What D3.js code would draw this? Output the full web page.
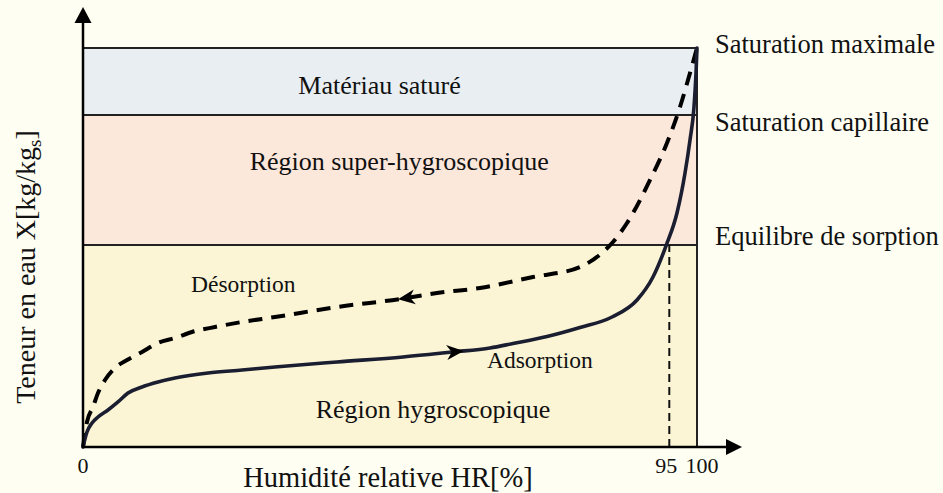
<!DOCTYPE html>
<html>
<head>
<meta charset="utf-8">
<script src="https://cdn.jsdelivr.net/npm/d3@7"></script>
<style>
  html, body { margin: 0; padding: 0; background: #fefef2; }
  svg { display: block; }
  text { font-family: "Liberation Serif", "Times New Roman", serif; fill: #111; }
</style>
</head>
<body>
<svg id="chart" width="943" height="493"></svg>
<script>
// Sorption isotherm: water content vs relative humidity
const adsorptionHR = [0, 0.65, 1.47, 2.44, 4.07, 5.7, 7.33, 9.61, 12.21, 14.98, 20.36, 25.9, 31.27, 41.37, 52.12, 60.26, 66.29, 70.03, 75.57, 80.94, 86.16, 90.23, 92.83, 95.0, 96.74, 98.05, 98.86, 99.51, 99.84, 100];
const adsorptionX  = [0, 3.76, 6.02, 7.52, 9.27, 11.28, 13.53, 15.04, 16.29, 17.29, 18.55, 19.3, 20.05, 21.3, 22.56, 23.81, 24.81, 25.94, 27.69, 29.95, 32.58, 36.84, 42.61, 50.6, 58.65, 68.67, 76.94, 85.21, 93.73, 100];

const desorptionHR = [0, 0.65, 1.63, 2.44, 3.58, 5.21, 7.17, 9.61, 12.21, 14.98, 17.75, 21.5, 25.9, 31.27, 41.37, 51.63, 57.65, 64.66, 73.29, 80.94, 84.69, 86.32, 88.6, 92.35, 95.11, 97.23, 98.86, 100];
const desorptionX  = [0, 6.27, 10.03, 13.53, 16.79, 19.8, 21.8, 23.81, 26.07, 27.32, 28.82, 30.08, 31.33, 32.58, 35.09, 37.09, 38.6, 39.85, 42.61, 45.11, 48.87, 51.38, 56.14, 66.92, 76.19, 85.21, 93.73, 100];

// Moisture zones (lower and upper water content) and their labels
const zoneNames  = ["Région hygroscopique", "Région super-hygroscopique", "Matériau saturé"];
const zoneLow    = [0, 50.6, 83.2];
const zoneHigh   = [50.6, 83.2, 100];
const zoneColors = ["#fbf5d5", "#fce7db", "#e8eef1"];
const zoneLabelX = [57, 51.5, 48.3];
const zoneLabelY = [7.3, 69.4, 88.5];

// Characteristic water contents named on the right
const levelNames  = ["Saturation maximale", "Saturation capillaire", "Equilibre de sorption"];
const levelValues = [100, 83.2, 50.6];

// Equilibrium relative humidity
const equilibriumHR = 95;
const equilibriumX  = 50.6;

// Axis tick labels
const tickValues = [0, 95, 100];
const tickLabels = ["0", "95", "100"];

// Curve labels and arrow positions
const adsorptionLabel = "Adsorption";
const desorptionLabel = "Désorption";
const adsorptionArrowHR = 62;
const desorptionArrowHR = 51.3;

const svg = d3.select("#chart");

const x = d3.scaleLinear().domain([0, 100]).range([83, 697]);
const y = d3.scaleLinear().domain([0, 100]).range([447, 48]);

// Zone bands
svg.append("g").selectAll("rect")
  .data(zoneNames.map((n, i) => i))
  .join("rect")
  .attr("x", x(0))
  .attr("y", i => y(zoneHigh[i]))
  .attr("width", x(100) - x(0))
  .attr("height", i => y(zoneLow[i]) - y(zoneHigh[i]))
  .attr("fill", i => zoneColors[i]);

// Zone border lines
svg.append("g").selectAll("line")
  .data(levelValues)
  .join("line")
  .attr("x1", x(0)).attr("x2", x(100))
  .attr("y1", d => y(d)).attr("y2", d => y(d))
  .attr("stroke", "#222").attr("stroke-width", 2);
svg.append("line")
  .attr("x1", x(100)).attr("x2", x(100))
  .attr("y1", y(100)).attr("y2", y(0))
  .attr("stroke", "#222").attr("stroke-width", 2);

// Equilibrium humidity marker
svg.append("line")
  .attr("x1", x(equilibriumHR) + 3).attr("x2", x(equilibriumHR) + 3)
  .attr("y1", y(0)).attr("y2", y(equilibriumX))
  .attr("stroke", "#111").attr("stroke-width", 2)
  .attr("stroke-dasharray", "8,5");

// Zone labels
svg.append("g").selectAll("text")
  .data(zoneNames.map((n, i) => i))
  .join("text")
  .attr("x", i => x(zoneLabelX[i]))
  .attr("y", i => y(zoneLabelY[i]))
  .attr("text-anchor", "middle")
  .attr("font-size", 26)
  .text(i => zoneNames[i]);

// Curves
const line = (hr, wc) => d3.line()
  .x(i => x(hr[i]))
  .y(i => y(wc[i]))
  .curve(d3.curveMonotoneX)(hr.map((d, i) => i));

const desPath = svg.append("path")
  .attr("d", line(desorptionHR, desorptionX))
  .attr("fill", "none")
  .attr("stroke", "#000")
  .attr("stroke-width", 4)
  .attr("stroke-dasharray", "14,9");

const adsPath = svg.append("path")
  .attr("d", line(adsorptionHR, adsorptionX))
  .attr("fill", "none")
  .attr("stroke", "#1b1e30")
  .attr("stroke-width", 3.6)
  .attr("stroke-linecap", "round");

// Direction arrowheads placed on each curve
function arrowOnPath(pathSel, hrValue, forward, color) {
  const node = pathSel.node();
  const total = node.getTotalLength();
  const target = x(hrValue);
  let lo = 0, hi = total;
  for (let k = 0; k < 40; k++) {
    const mid = (lo + hi) / 2;
    if (node.getPointAtLength(mid).x < target) lo = mid; else hi = mid;
  }
  const p = node.getPointAtLength(lo);
  const a = node.getPointAtLength(Math.max(0, lo - 2));
  const b = node.getPointAtLength(Math.min(total, lo + 2));
  let ang = Math.atan2(b.y - a.y, b.x - a.x) * 180 / Math.PI;
  if (!forward) ang += 180;
  svg.append("path")
    .attr("d", "M0,0 L-17,-7.5 L-12,0 L-17,7.5 Z")
    .attr("fill", color)
    .attr("transform", `translate(${p.x},${p.y}) rotate(${ang})`);
}
arrowOnPath(adsPath, adsorptionArrowHR, true, "#000");
arrowOnPath(desPath, desorptionArrowHR, false, "#000");

// Curve labels
svg.append("text").attr("x", x(17.6)).attr("y", y(38.8))
  .attr("font-size", 23.5).text(desorptionLabel);
svg.append("text").attr("x", x(65.8)).attr("y", y(19.8))
  .attr("font-size", 23.5).text(adsorptionLabel);

// Level labels on the right
const levelBaselines = [53, 131, 245];
svg.append("g").selectAll("text")
  .data(levelNames.map((n, i) => i))
  .join("text")
  .attr("x", 715)
  .attr("y", i => levelBaselines[i])
  .attr("font-size", 26.5)
  .text(i => levelNames[i]);

// Axes with arrowheads
const axes = svg.append("g");
axes.append("line")
  .attr("x1", x(0)).attr("x2", x(0))
  .attr("y1", y(0) + 1).attr("y2", 20)
  .attr("stroke", "#000").attr("stroke-width", 2.5);
axes.append("path")
  .attr("d", `M${x(0)},7 L${x(0) - 8.5},23 L${x(0) + 8.5},23 Z`)
  .attr("fill", "#000");
axes.append("line")
  .attr("x1", x(0) - 1).attr("x2", 728)
  .attr("y1", y(0)).attr("y2", y(0))
  .attr("stroke", "#000").attr("stroke-width", 2.5);
axes.append("path")
  .attr("d", `M742,${y(0)} L726,${y(0) - 8} L726,${y(0) + 8} Z`)
  .attr("fill", "#000");

// Tick labels
const tickShift = [0, 0, 5];
svg.append("g").selectAll("text")
  .data(tickValues.map((v, i) => i))
  .join("text")
  .attr("x", i => x(tickValues[i]) + tickShift[i])
  .attr("y", 473)
  .attr("text-anchor", "middle")
  .attr("font-size", 22)
  .text(i => tickLabels[i]);

// Axis titles
svg.append("text")
  .attr("x", 388).attr("y", 487)
  .attr("text-anchor", "middle")
  .attr("font-size", 28.5)
  .text("Humidité relative HR[%]");

const yt = svg.append("text")
  .attr("transform", "translate(35,267) rotate(-90)")
  .attr("text-anchor", "middle")
  .attr("font-size", 28);
yt.append("tspan").text("Teneur en eau X[kg/kg");
yt.append("tspan").attr("font-size", 19).attr("dy", 6).text("s");
yt.append("tspan").attr("dy", -6).text("]");
</script>
</body>
</html>
